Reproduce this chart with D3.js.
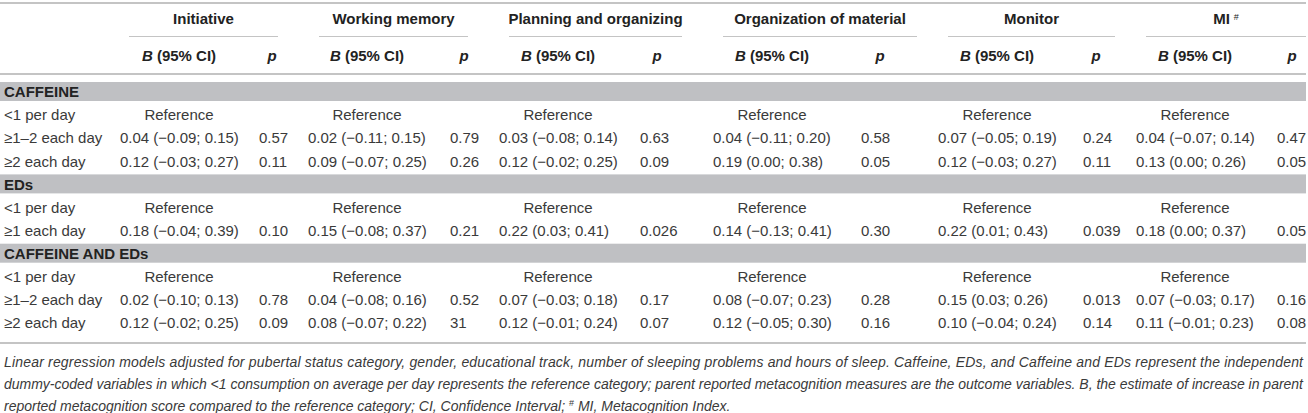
<!DOCTYPE html>
<html>
<head>
<meta charset="utf-8">
<script src="https://cdn.jsdelivr.net/npm/d3@7/dist/d3.min.js"></script>
<style>
  html, body { margin: 0; padding: 0; background: #fff; }
  svg { display: block; }
  text { font-family: "Liberation Sans", Arial, Helvetica, sans-serif; }
</style>
</head>
<body>
<script>
// ---------- DATA ----------
const outcomes = ["Initiative", "Working memory", "Planning and organizing", "Organization of material", "Monitor", "MI"];
const sections = ["CAFFEINE", "EDs", "CAFFEINE AND EDs"];
const levels = [
  ["<1 per day", "≥1–2 each day", "≥2 each day"],
  ["<1 per day", "≥1 each day"],
  ["<1 per day", "≥1–2 each day", "≥2 each day"]
];
const referenceLabel = "Reference";
// one row per non-reference level, one value per outcome
const bEst = [
  [0.04, 0.02, 0.03, 0.04, 0.07, 0.04],
  [0.12, 0.09, 0.12, 0.19, 0.12, 0.13],
  [0.18, 0.15, 0.22, 0.14, 0.22, 0.18],
  [0.02, 0.04, 0.07, 0.08, 0.15, 0.07],
  [0.12, 0.08, 0.12, 0.12, 0.10, 0.11]
];
const ciLow = [
  [-0.09, -0.11, -0.08, -0.11, -0.05, -0.07],
  [-0.03, -0.07, -0.02, 0.00, -0.03, 0.00],
  [-0.04, -0.08, 0.03, -0.13, 0.01, 0.00],
  [-0.10, -0.08, -0.03, -0.07, 0.03, -0.03],
  [-0.02, -0.07, -0.01, -0.05, -0.04, -0.01]
];
const ciHigh = [
  [0.15, 0.15, 0.14, 0.20, 0.19, 0.14],
  [0.27, 0.25, 0.25, 0.38, 0.27, 0.26],
  [0.39, 0.37, 0.41, 0.41, 0.43, 0.37],
  [0.13, 0.16, 0.18, 0.23, 0.26, 0.17],
  [0.25, 0.22, 0.24, 0.30, 0.24, 0.23]
];
const pVals = [
  ["0.57", "0.79", "0.63", "0.58", "0.24", "0.47"],
  ["0.11", "0.26", "0.09", "0.05", "0.11", "0.05"],
  ["0.10", "0.21", "0.026", "0.30", "0.039", "0.05"],
  ["0.78", "0.52", "0.17", "0.28", "0.013", "0.16"],
  ["0.09", "31", "0.07", "0.16", "0.14", "0.08"]
];
const footnoteLines = [
  "Linear regression models adjusted for pubertal status category, gender, educational track, number of sleeping problems and hours of sleep. Caffeine, EDs, and Caffeine and EDs represent the independent",
  "dummy-coded variables in which <1 consumption on average per day represents the reference category; parent reported metacognition measures are the outcome variables. B, the estimate of increase in parent",
  ["reported metacognition score compared to the reference category; CI, Confidence Interval; ", "#", " MI, Metacognition Index."]
];

// ---------- LAYOUT ----------
const W = 1308, H = 413;
const layout = {
  bLeft:   [120, 308, 499, 713, 938, 1136],
  pLeft:   [259, 450, 640, 861, 1083, 1277],
  pHead:   [272, 464, 657, 880, 1096, 1292],
  lineX0:  [129, 319, 509, 723, 948, 1146],
  lineX1:  [278, 468, 682, 917, 1115, 1306]
};
const bCellW = 118;
const headColor = "#222";
const textColor = "#3a3a3a";
const ruleColor = "#c4c4c4";
const bandColor = "#bfc0c3";

const fmt = d3.format(".2f");

const svg = d3.select("body").append("svg").attr("width", W).attr("height", H);

const xB = d3.scaleOrdinal(outcomes, layout.bLeft);
const xP = d3.scaleOrdinal(outcomes, layout.pLeft);
const xPH = d3.scaleOrdinal(outcomes, layout.pHead);
const xL0 = d3.scaleOrdinal(outcomes, layout.lineX0);
const xL1 = d3.scaleOrdinal(outcomes, layout.lineX1);

// build row list
const rows = [];
let dataIdx = 0;
sections.forEach((s, si) => {
  rows.push({ type: "section", label: s });
  levels[si].forEach((lv, li) => {
    if (li === 0) rows.push({ type: "ref", label: lv });
    else rows.push({ type: "data", label: lv, idx: dataIdx++ });
  });
});
const y = d3.scalePoint().domain(d3.range(rows.length)).range([92, 323]);

// ---------- RULES ----------
[3, 74, 343].forEach(yy => {
  svg.append("line").attr("x1", 0).attr("x2", 1306).attr("y1", yy).attr("y2", yy)
    .attr("stroke", ruleColor).attr("stroke-width", 2);
});

// ---------- HEADERS ----------
const head = svg.append("g").attr("font-weight", "bold").attr("font-size", 15).attr("fill", headColor);
const ht = head.selectAll("text.h").data(outcomes).join("text").attr("class", "h")
  .attr("x", d => (xL0(d) + xL1(d)) / 2).attr("y", 19).attr("dy", "0.35em")
  .attr("text-anchor", "middle");
ht.append("tspan").text(d => d);
ht.filter(d => d === "MI").append("tspan").text("#")
  .attr("font-size", 9).attr("font-weight", "normal").attr("dx", 4).attr("dy", "-0.5em");

head.selectAll("line.u").data(outcomes).join("line").attr("class", "u")
  .attr("x1", d => xL0(d)).attr("x2", d => xL1(d)).attr("y1", 36.5).attr("y2", 36.5)
  .attr("stroke", ruleColor).attr("stroke-width", 1.2);

const sb = head.selectAll("text.sb").data(outcomes).join("text").attr("class", "sb")
  .attr("x", d => xB(d) + bCellW / 2).attr("y", 56).attr("dy", "0.35em").attr("text-anchor", "middle");
sb.append("tspan").attr("font-style", "italic").text("B");
sb.append("tspan").text(" (95% CI)");
head.selectAll("text.sp").data(outcomes).join("text").attr("class", "sp")
  .attr("x", d => xPH(d)).attr("y", 56).attr("dy", "0.35em").attr("text-anchor", "middle")
  .attr("font-style", "italic").text("p");

// ---------- BODY ----------
const body = svg.append("g").attr("font-size", 15).attr("fill", textColor);
const rowG = body.selectAll("g.row").data(rows).join("g").attr("class", "row")
  .attr("transform", (d, i) => `translate(0,${y(i)})`);

rowG.filter(d => d.type === "section").append("rect")
  .attr("x", 0).attr("width", 1306).attr("y", -10).attr("height", 19).attr("fill", bandColor);

rowG.append("text").attr("x", 4).attr("dy", "0.35em")
  .attr("font-weight", d => d.type === "section" ? "bold" : "normal")
  .attr("fill", d => d.type === "section" ? headColor : textColor)
  .text(d => d.label);

rowG.filter(d => d.type === "ref").selectAll("text.ref").data(outcomes).join("text")
  .attr("class", "ref").attr("x", d => xB(d) + bCellW / 2).attr("dy", "0.35em")
  .attr("text-anchor", "middle").text(referenceLabel);

rowG.filter(d => d.type === "data").each(function (r) {
  const g = d3.select(this);
  g.selectAll("text.b").data(outcomes).join("text").attr("class", "b")
    .attr("x", d => xB(d)).attr("dy", "0.35em")
    .text((d, j) => `${fmt(bEst[r.idx][j])} (${fmt(ciLow[r.idx][j])}; ${fmt(ciHigh[r.idx][j])})`);
  g.selectAll("text.p").data(outcomes).join("text").attr("class", "p")
    .attr("x", d => xP(d)).attr("dy", "0.35em")
    .text((d, j) => pVals[r.idx][j]);
});

// ---------- FOOTNOTE ----------
const foot = svg.append("g").attr("font-size", 14).attr("font-style", "italic").attr("fill", textColor);
const fy = [362, 384, 406];
footnoteLines.forEach((ln, i) => {
  const t = foot.append("text").attr("x", 4).attr("y", fy[i]).attr("dy", "0.35em");
  if (typeof ln === "string") {
    t.text(ln).attr("textLength", 1299).attr("lengthAdjust", "spacing");
  } else {
    t.append("tspan").text(ln[0]);
    t.append("tspan").text(ln[1]).attr("font-size", 9).attr("font-style", "normal").attr("dy", "-0.6em");
    t.append("tspan").text(ln[2]).attr("dy", "0.38em");
  }
});
</script>
</body>
</html>
